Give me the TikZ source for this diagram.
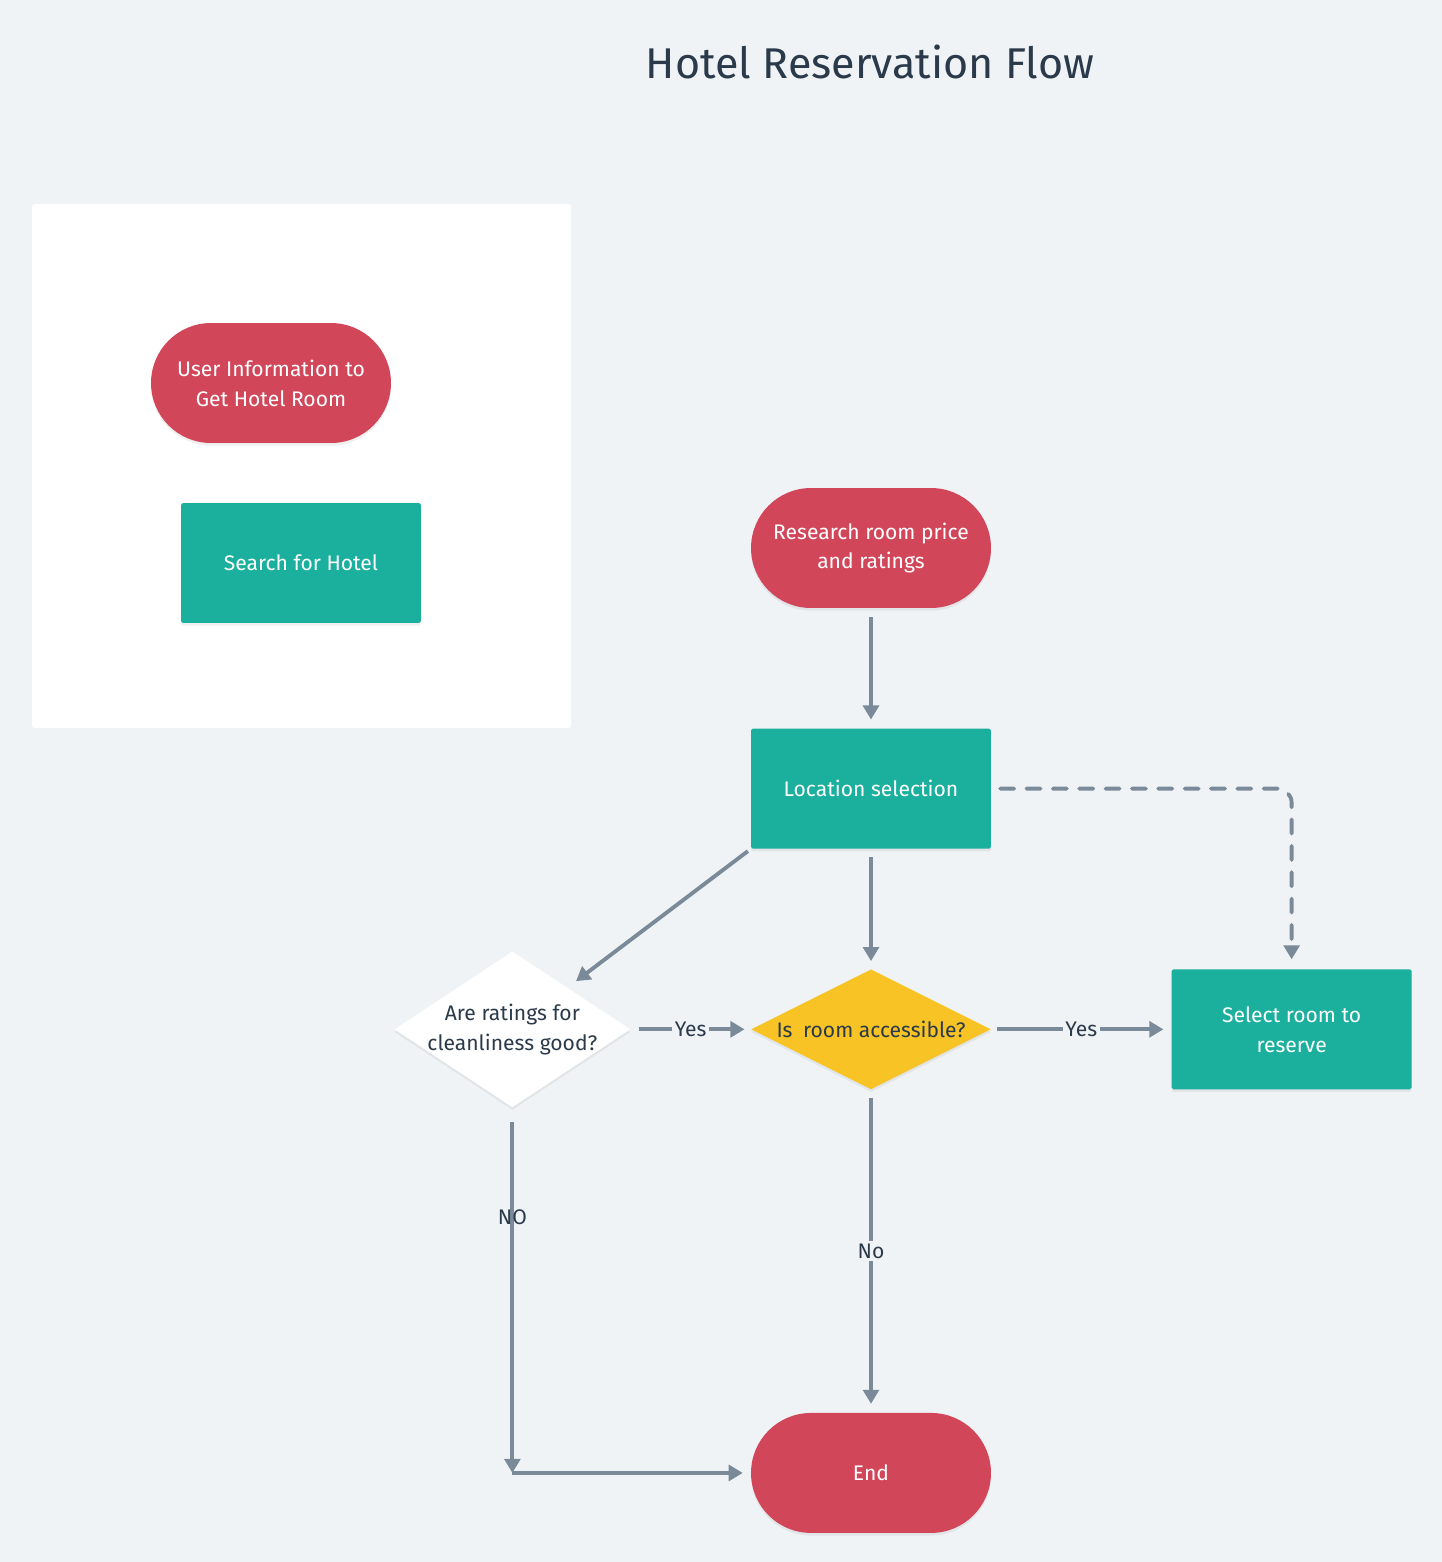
\documentclass[tikz,border=0pt]{standalone}
\usepackage{fontspec}
\setmainfont{Fira Sans}
\usepackage{xcolor}
\usepackage{tikz}
\usetikzlibrary{arrows.meta,positioning,shapes.geometric,shadows}
\definecolor{FlowBg}{HTML}{EFF3F6}
\definecolor{FlowRed}{HTML}{D2465A}
\definecolor{FlowTeal}{HTML}{1BAF9D}
\definecolor{FlowGold}{HTML}{F7C325}
\definecolor{FlowLine}{HTML}{7A8A99}
\definecolor{FlowInk}{HTML}{2B3A4A}

\begin{document}
\begin{tikzpicture}[x=0.02cm,y=-0.02cm,node distance=2.4cm,>={Triangle[length=8pt,width=9pt]}]
  \tikzset{
    base/.style={minimum width=4.8cm,minimum height=2.4cm,align=center,inner sep=2pt,
      font=\fontsize{12}{17}\selectfont},
    soft/.style={drop shadow={opacity=0.12,shadow xshift=0pt,shadow yshift=-1.5pt}},
    terminal/.style={base,soft,fill=FlowRed,text=white,rounded corners=1.2cm},
    process/.style={base,soft,fill=FlowTeal,text=white,rounded corners=1pt},
    decision/.style={diamond,soft,inner sep=0pt,minimum width=4.8cm,minimum height=2.4cm},
    caption/.style={font=\fontsize{12}{17}\selectfont,text=FlowInk,align=center},
    flow/.style={->,FlowLine,line width=2.2pt},
    tag/.style={fill=FlowBg,text=FlowInk,inner sep=1.5pt,font=\fontsize{12}{14}\selectfont}
  }
  \fill[FlowBg] (0,0) rectangle (1442,1562);
  \fill[white,rounded corners=1pt] (32,204) rectangle (571,728);
  \node[font=\fontsize{24.5}{28}\selectfont,text=FlowInk] (title) at (870,62) {Hotel Reservation Flow};

  \node[terminal] (info) at (271,383) {User Information to\\Get Hotel Room};
  \node[process] (search) at (301,563) {Search for Hotel};

  \node[terminal] (research) at (871,548) {Research room price\\and ratings};
  \node[process,below=of research] (loc) {Location selection};
  \node[decision,fill=FlowGold,below=of loc,
    label={[caption]center:Is\enspace room accessible?}] (acc) {};
  \node[decision,fill=white,left=of acc,minimum width=4.72cm,minimum height=3.12cm,
    label={[caption]center:Are ratings for\\cleanliness good?}] (rate) {};
  \node[process,right=3.6cm of acc] (sel) {Select room to\\reserve};
  \node[terminal,below=6.46cm of acc] (finish) {End};
  \coordinate (turn) at (rate.center |- finish.center);

  \draw[flow,shorten <=5pt,shorten >=5pt] (research) -- (loc);
  \draw[flow,shorten <=4.5pt,shorten >=4.5pt] (loc) -- (acc);
  \draw[flow,shorten <=2pt,shorten >=6pt] (loc.south west) -- (rate);
  \draw[flow,shorten <=4.5pt,shorten >=3.5pt] (rate) -- node[tag] {Yes} (acc);
  \draw[flow,shorten <=3.5pt,shorten >=4.5pt] (acc) -- node[tag] {Yes} (sel);
  \draw[flow,shorten <=4.5pt,shorten >=5pt] (acc) -- node[tag] {No} (finish);
  \draw[flow,shorten <=8pt] (rate) -- node[pos=0.3,caption] {NO} (turn);
  \draw[flow,shorten >=4.5pt] (turn) -- (finish);
  \draw[flow,dash pattern=on 8pt off 7pt,line cap=round,rounded corners=8pt,
    shorten <=5pt,shorten >=5.5pt] (loc.east) -| (sel.north);
\end{tikzpicture}
\end{document}
